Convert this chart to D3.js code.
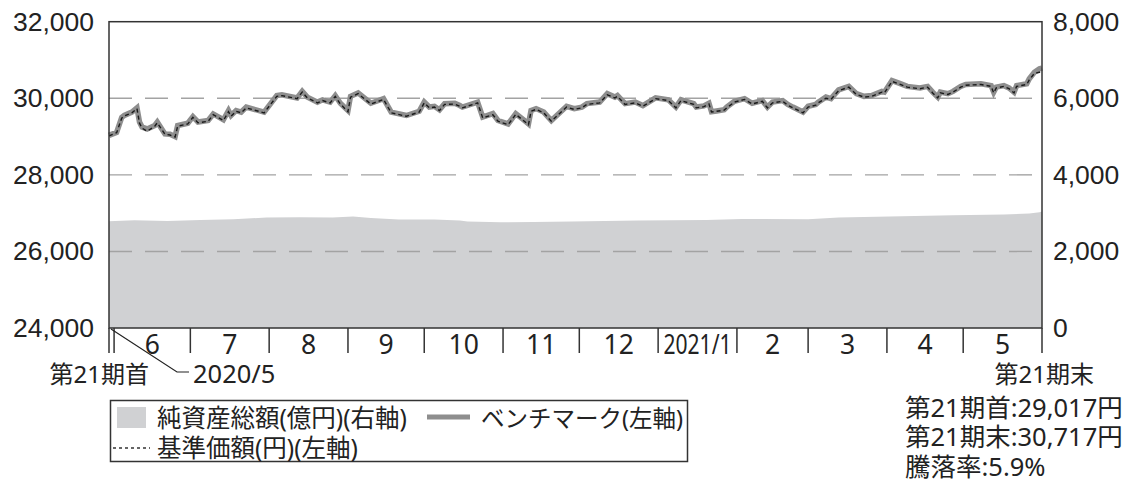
<!DOCTYPE html>
<html lang="ja">
<head>
<meta charset="utf-8">
<script src="https://cdn.jsdelivr.net/npm/d3@7"></script>
<style>
  html, body { margin: 0; padding: 0; background: #fff; }
  svg { display: block; font-family: "Noto Sans", "Noto Sans CJK JP", sans-serif; }
</style>
</head>
<body>
<svg id="chart" width="1126" height="480"></svg>
<script>
// 基準価額・ベンチマーク (円)
const priceDates = [
  "2020-05-30","2020-06-02","2020-06-04","2020-06-05","2020-06-08","2020-06-10","2020-06-11","2020-06-12","2020-06-14","2020-06-17",
  "2020-06-18","2020-06-21","2020-06-23","2020-06-25","2020-06-26","2020-06-30","2020-07-02","2020-07-04","2020-07-08","2020-07-10",
  "2020-07-14","2020-07-16","2020-07-17","2020-07-19","2020-07-21","2020-07-23","2020-07-30","2020-08-04","2020-08-06","2020-08-12",
  "2020-08-14","2020-08-16","2020-08-20","2020-08-22","2020-08-25","2020-08-27","2020-08-29","2020-09-01","2020-09-02","2020-09-05",
  "2020-09-10","2020-09-15","2020-09-18","2020-09-24","2020-09-29","2020-10-01","2020-10-03","2020-10-05","2020-10-07","2020-10-09",
  "2020-10-13","2020-10-15","2020-10-16","2020-10-22","2020-10-24","2020-10-28","2020-10-30","2020-11-03","2020-11-06","2020-11-09",
  "2020-11-11","2020-11-12","2020-11-14","2020-11-17","2020-11-20","2020-11-26","2020-11-29","2020-12-02","2020-12-04","2020-12-09",
  "2020-12-12","2020-12-15","2020-12-16","2020-12-19","2020-12-23","2020-12-26","2020-12-31","2021-01-05","2021-01-08","2021-01-10",
  "2021-01-15","2021-01-16","2021-01-19","2021-01-21","2021-01-22","2021-01-24","2021-01-27","2021-01-28","2021-01-31","2021-02-04",
  "2021-02-07","2021-02-11","2021-02-13","2021-02-15","2021-02-19","2021-02-21","2021-02-23","2021-02-27","2021-03-01","2021-03-04",
  "2021-03-05","2021-03-08","2021-03-10","2021-03-13","2021-03-17","2021-03-20","2021-03-23","2021-03-26","2021-03-30","2021-03-31",
  "2021-04-03","2021-04-06","2021-04-09","2021-04-14","2021-04-17","2021-04-19","2021-04-21","2021-04-22","2021-04-25","2021-04-27",
  "2021-04-30","2021-05-02","2021-05-08","2021-05-12","2021-05-13","2021-05-14","2021-05-17","2021-05-19","2021-05-21","2021-05-22",
  "2021-05-26","2021-05-27","2021-05-29","2021-05-31","2021-06-01"
];
const benchmark = [
  29030,29110,29500,29550,29640,29750,29380,29250,29200,29290,
  29380,29070,29060,29000,29290,29350,29520,29380,29420,29590,
  29440,29680,29550,29680,29640,29770,29640,30070,30090,30010,
  30180,30030,29900,29960,29900,30070,29870,29680,30050,30140,
  29870,29990,29640,29550,29660,29900,29770,29790,29700,29860,
  29870,29810,29770,29900,29510,29600,29420,29330,29600,29440,
  29330,29680,29730,29640,29420,29790,29730,29770,29860,29900,
  30120,30030,30070,29860,29900,29810,30010,29960,29770,29960,
  29860,29770,29800,29870,29650,29670,29700,29770,29920,29990,
  29870,29940,29770,29900,29940,29840,29770,29640,29790,29840,
  29900,30030,29990,30220,30310,30120,30050,30070,30180,30160,
  30460,30390,30310,30270,30310,30160,30030,30160,30120,30180,
  30310,30360,30380,30330,30160,30290,30330,30270,30160,30330,
  30380,30510,30680,30770,30790
];
const navPrice = [
  29017,29100,29480,29540,29620,29730,29350,29220,29140,29270,
  29360,29060,29040,28990,29270,29330,29500,29360,29400,29570,
  29420,29650,29530,29660,29620,29750,29620,30050,30070,29990,
  30160,30010,29880,29940,29880,30050,29850,29650,30030,30120,
  29850,29970,29620,29530,29640,29880,29750,29770,29680,29840,
  29850,29790,29750,29880,29490,29570,29400,29310,29580,29420,
  29310,29660,29710,29620,29400,29770,29710,29750,29840,29880,
  30090,30010,30050,29840,29880,29790,29990,29940,29750,29940,
  29840,29750,29780,29850,29640,29660,29690,29750,29900,29970,
  29850,29920,29750,29880,29920,29820,29750,29620,29770,29820,
  29880,30000,29970,30200,30290,30100,30030,30050,30160,30140,
  30440,30370,30290,30250,30290,30140,30010,30140,30100,30160,
  30290,30340,30360,30310,30140,30270,30310,30250,30140,30310,
  30360,30480,30650,30680,30717
];

// 純資産総額 (億円)
const assetDates = [
  "2020-05-30","2020-06-09","2020-06-22","2020-07-05","2020-07-18","2020-07-31","2020-08-13","2020-08-26","2020-09-03","2020-09-10",
  "2020-09-21","2020-10-05","2020-10-15","2020-10-18","2020-10-31","2020-11-13","2020-11-28","2020-12-24","2021-01-20","2021-02-03",
  "2021-03-01","2021-03-13","2021-04-07","2021-04-27","2021-05-17","2021-05-27","2021-05-31","2021-06-01"
];
const netAssets = [
  2788,2814,2796,2822,2840,2885,2893,2885,2911,2874,
  2833,2833,2807,2780,2762,2770,2780,2807,2822,2848,
  2840,2885,2919,2945,2963,2989,3020,3040
];

// 目盛
const leftTicks = [24000, 26000, 28000, 30000, 32000];
const rightTicks = [0, 2000, 4000, 6000, 8000];
const gridTicks = [26000, 28000, 30000];
const periodStart = "2020-05-30";
const periodEnd = "2021-06-01";

const legendItems = ["純資産総額(億円)(右軸)", "ベンチマーク(左軸)", "基準価額(円)(左軸)"];
const summaryLines = ["第21期首:29,017円", "第21期末:30,717円", "騰落率:5.9%"];

const parse = d3.utcParse("%Y-%m-%d");
const svg = d3.select("#chart");

const plot = { left: 109, right: 1042, top: 21.7, bottom: 328 };

const x = d3.scaleUtc().domain([parse(periodStart), parse(periodEnd)]).range([plot.left, plot.right]);
const yL = d3.scaleLinear().domain([24000, 32000]).range([plot.bottom, plot.top]);
const yR = d3.scaleLinear().domain([0, 8000]).range([plot.bottom, plot.top]);

const prices = priceDates.map((d, i) => ({ date: parse(d), bench: benchmark[i], nav: navPrice[i] }));
const assets = assetDates.map((d, i) => ({ date: parse(d), value: netAssets[i] }));

// 純資産総額エリア
svg.append("path")
  .datum(assets)
  .attr("fill", "#d0d1d3")
  .attr("d", d3.area().x(d => x(d.date)).y0(yR(0)).y1(d => yR(d.value)).curve(d3.curveLinear));

// 補助線
svg.append("g").selectAll("line").data(gridTicks).join("line")
  .attr("x1", plot.left).attr("x2", plot.right)
  .attr("y1", d => yL(d)).attr("y2", d => yL(d))
  .attr("stroke", "#a3a3a3").attr("stroke-width", 1.4)
  .attr("stroke-dasharray", "23,13");

// ベンチマーク
svg.append("path")
  .datum(prices)
  .attr("fill", "none")
  .attr("stroke", "#8e8e8e")
  .attr("stroke-width", 5.5)
  .attr("stroke-linejoin", "miter")
  .attr("stroke-miterlimit", 3)
  .attr("d", d3.line().x(d => x(d.date)).y(d => yL(d.bench)));

// 基準価額
svg.append("path")
  .datum(prices)
  .attr("fill", "none")
  .attr("stroke", "#1a1a1a")
  .attr("stroke-width", 1.4)
  .attr("stroke-dasharray", "4,3")
  .attr("d", d3.line().x(d => x(d.date)).y(d => yL(d.nav)));

// 枠線
const frame = svg.append("g").attr("stroke", "#333").attr("stroke-width", 1.5).attr("fill", "none");
frame.append("rect")
  .attr("x", plot.left).attr("y", plot.top)
  .attr("width", plot.right - plot.left).attr("height", plot.bottom - plot.top);

// 左軸
const axisFont = 26.5;
const leftAxis = svg.append("g")
  .attr("transform", `translate(${plot.left},0)`)
  .call(d3.axisLeft(yL).tickValues(leftTicks).tickSize(0).tickPadding(15).tickFormat(d3.format(",")));
leftAxis.select(".domain").remove();
leftAxis.selectAll("text").attr("font-size", axisFont).attr("fill", "#222").attr("font-family", null);

// 右軸
const rightAxis = svg.append("g")
  .attr("transform", `translate(${plot.right},0)`)
  .call(d3.axisRight(yR).tickValues(rightTicks).tickSize(0).tickPadding(11).tickFormat(d3.format(",")));
rightAxis.select(".domain").remove();
rightAxis.selectAll("text").attr("font-size", axisFont).attr("fill", "#222").attr("font-family", null);

// 月区切り
const monthStarts = d3.utcMonth.range(d3.utcMonth.ceil(x.domain()[0]), d3.utcDay.offset(x.domain()[1], 1));
const tickDates = [x.domain()[0], ...monthStarts];
svg.append("g").selectAll("line").data(tickDates).join("line")
  .attr("x1", d => x(d)).attr("x2", d => x(d))
  .attr("y1", plot.bottom).attr("y2", 353)
  .attr("stroke", "#333").attr("stroke-width", 1.5);

const months = monthStarts.slice(0, -1);
const monthLabel = d => d.getUTCMonth() === 0 ? `${d.getUTCFullYear()}/1` : `${d.getUTCMonth() + 1}`;
svg.append("g").selectAll("text").data(months).join("text")
  .attr("x", d => (x(d) + x(d3.utcMonth.offset(d, 1))) / 2)
  .attr("y", 354)
  .attr("text-anchor", "middle")
  .attr("font-size", axisFont)
  .attr("fill", "#222")
  .each(function (d) {
    const t = d3.select(this).text(monthLabel(d));
    if (d.getUTCMonth() === 0) t.attr("textLength", 68).attr("lengthAdjust", "spacingAndGlyphs");
  });

// 期首・期末の注記
const startX = x(x.domain()[0]);
svg.append("path")
  .attr("d", `M${startX + 2},${plot.bottom + 1} L177,372 L189,372`)
  .attr("fill", "none").attr("stroke", "#222").attr("stroke-width", 1.2);
svg.append("text").attr("x", 193).attr("y", 383).attr("font-size", 25.5).attr("fill", "#222").text("2020/5");
svg.append("text").attr("x", 149).attr("y", 383).attr("text-anchor", "end").attr("font-size", 24).attr("fill", "#222").text("第21期首");
svg.append("text").attr("x", 1094).attr("y", 383).attr("text-anchor", "end").attr("font-size", 24).attr("fill", "#222").text("第21期末");

// 凡例
const legend = svg.append("g");
legend.append("rect").attr("x", 110.5).attr("y", 400.5).attr("width", 577).attr("height", 61)
  .attr("fill", "#fff").attr("stroke", "#333").attr("stroke-width", 1.5);
legend.append("rect").attr("x", 117).attr("y", 407).attr("width", 29).attr("height", 21).attr("fill", "#d0d1d3");
legend.append("line").attr("x1", 427).attr("x2", 470).attr("y1", 417).attr("y2", 417)
  .attr("stroke", "#8e8e8e").attr("stroke-width", 5);
legend.append("line").attr("x1", 113).attr("x2", 150).attr("y1", 448).attr("y2", 448)
  .attr("stroke", "#333").attr("stroke-width", 1.3).attr("stroke-dasharray", "3,3");
const legendPos = [[157, 427], [481, 427], [157, 457]];
const legendFont = [24.5, 23.5, 24.5];
legend.selectAll("text").data(legendItems).join("text")
  .attr("x", (d, i) => legendPos[i][0]).attr("y", (d, i) => legendPos[i][1])
  .attr("font-size", (d, i) => legendFont[i]).attr("fill", "#222")
  .text(d => d);

// 期首・期末・騰落率
svg.append("g").selectAll("text").data(summaryLines).join("text")
  .attr("x", 905).attr("y", (d, i) => 417 + i * 29.3)
  .attr("font-size", 25.5).attr("fill", "#222")
  .text(d => d);
</script>
</body>
</html>
